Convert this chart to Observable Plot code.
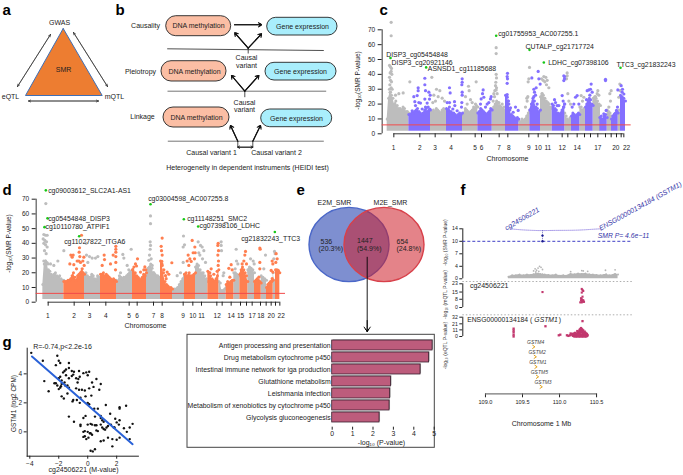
<!DOCTYPE html>
<html><head><meta charset="utf-8">
<style>html,body{margin:0;padding:0;background:#fff}#fig{position:relative;width:683px;height:475px;overflow:hidden;font-family:"Liberation Sans",sans-serif}#fig svg{position:absolute;overflow:visible;font-family:"Liberation Sans",sans-serif !important}#fig svg text{font-family:"Liberation Sans",sans-serif !important}</style>
<script src="https://cdn.jsdelivr.net/npm/d3@7"></script>
<script src="https://cdn.jsdelivr.net/npm/@observablehq/plot@0.6"></script>
</head><body><div id="fig"></div>
<script>
const FONT='"Liberation Sans",sans-serif';
const GREY="#bdbdbd",PURPLE="#8470ff",CORAL="#ff7f50",GREEN="#18c818",RED="#f24a4a",NAVY="#3535a8",CRIMSON="#c2386e";

// ---- panel c : Manhattan, genome position in arbitrary genome units
const chrStartC=[50,115,180,228,276,322,365,405,445,478,510,545,583,603,628,645,668,688,710,723,743,750];
const chrEndC=[115,180,228,276,322,365,405,445,478,510,545,583,603,628,645,668,690,710,723,743,750,765];
const chrTopC=[[10,24,28,26,24,20,22,19,17,17,16,18,17,15,15,14],[13,13,14,14,15,16,17,15,14,13,14,16,17,15,16,16],[15,14,16,15,17,16,15,14,16,17,16,15],[17,16,18,15,14,14,13,12,13,14,13,14],[13,14,17,16,15,14,15,16,18,17,19,18],[14,15,17,16,15,14,13,14,15,17,16],[16,18,20,22,21,19,18,17,18,16],[26,25,22,16,13,12,11,10,11,10],[9,8,10,9,10,12,14,16],[16,20,24,22,18,17,15,16],[25,27,26,24,22,21,20,18,17],[20,19,17,16,14,13,14,16,18,20],[14,12,10,9,11,10],[12,14,13,12,13,14,13],[18,18,16,17,16],[18,20,22,24,23,20,19],[24,25,24,22,20,19],[11,12,10,12,13,11],[16,15,14,12],[10,12,13,14,15,14],[14,16,14],[26,25,24,22]];
const tickC=[70,148,194,242,314,333,386,412,475,503,532,575,592,620,642,660,682,705,722,738,752,760];
const tickLabelC=["1","2","3","4","5","6","7","8","9","10","11","12","14","17","20","22"];
const tickLabelXC=[69,148,194,242,314,333,386,415,475,503,532,575,620,682,736,768];
const greyC=[[62,75],[62,66],[57,46],[60,45],[63,44],[62,42],[59,41],[64,40],[57,38],[60,36],[63,35],[58,33],[62,31],[65,30],[57,30],[60,28],[118,35],[98,27.5],[85,27],[75,26],[184,38],[198,30],[208,29],[190,26],[203,25],[215,24],[222,22],[195,22],[187,21],[317,35],[294,32],[296,29],[285,25],[300,23],[305,21],[315,20],[290,20],[377,58],[377,54],[377,40],[378,37.6],[376,34.7],[375,32.4],[378,31],[373,29],[377,29.5],[370,27],[380,27],[372,25],[368,22],[385,21],[395,20],[477,44.7],[475,37],[473,35],[472,25],[470,22],[469,24],[465,18],[513,37],[520,38.5],[526,38],[530,36],[518,36],[523,35],[528,33],[535,31],[515,27],[590,41],[590,39],[588,37],[592,27],[595,22],[600,20],[632,25.7],[640,24.6],[636,22],[682,29],[685,26],[675,25],[670,22],[680,27],[722,29],[718,27],[720,22],[715,18],[748,33.5],[745,24.6],[749,29]];
const accentC=[[143,31],[143,29],[140,25.7],[130,25],[145,21],[135,19],[125,15.5],[133,21.6],[163,37.4],[163,33],[165,29],[175,28],[179,26],[163,23.4],[170,20.7],[177,23.4],[165,18],[155,16.7],[173,18],[178,16.7],[150,20.7],[237,31],[239,27.5],[230,21],[237,21],[252,21.6],[253,19],[275,37],[275,34.7],[274,33],[275,28],[275,26],[274,21],[273,18],[260,15.5],[247,16.7],[338,29.5],[336,27],[332,23.5],[340,24.6],[360,23.5],[362,25],[355,21],[345,18],[330,20],[350,20],[411,40.7],[410,38.5],[411,37],[410,34],[410,26.4],[410,24.6],[413,22],[415,20],[420,17.5],[435,18],[443,15.7],[428,14.5],[503,42],[484,37.6],[490,30],[497,31],[492,28],[490,25],[505,37],[509,33.5],[488,22],[495,26],[500,20],[580,39],[582,38.5],[582,37],[580,35.8],[552,23],[555,21],[560,19],[565,19],[575,25.7],[578,22],[582,20],[580,18],[615,24.6],[610,20],[625,20],[620,25.7],[605,18],[662,33.5],[655,29.5],[650,29],[658,26],[660,30],[665,28],[648,23],[705,36.7],[705,35.8],[707,15.7],[700,13.5],[742,29.5],[741,18],[738,15.7],[733,13.5],[752,32.4],[755,28],[758,22.4],[760,26.8],[756,30]];
const greenXC=[60,167,377,477,520,750],greenYC=[51,44.7,66,56.5,48,44.5];
const labelTextC=["cg01755953_AC007255.1","CUTALP_cg21717724","DISP3_cg05454848","DISP3_cg20921146","ASNSD1_cg11185688","LDHC_cg07398106","TTC3_cg21832243"];
const labelXC=[383,465,47,63,172,533,738],labelYC=[67.1,58.4,53,48,43.6,47.6,46.5];

// ---- panel d : Manhattan
const chrStartD=[127,190,252,300,348,396,438,480,516,552,585,622,655,677,700,718,742,762,782,798,818,825];
const chrEndD=[190,252,300,348,396,438,480,516,552,585,622,655,677,700,718,742,762,782,798,818,825,838];
const chrTopD=[[12,26,28,27,22,21,19,18,19,20,18,17,18,16,15,15],[14,14,14,15,15,16,18,20,17,15,18,19,20,21,20,19],[19,20,18,17,17,19,18,16,15,18,17,16],[19,19,20,18,19,18,17,16,15,16,15,14],[15,14,18,17,16,17,17,18,19,20,21,22],[22,24,20,18,17,16,15,17,19,18,20],[20,22,24,26,23,20,19,18,18,17,16],[28,26,20,14,12,11,10,10,9],[8,9,9,10,12,14,16,19],[19,20,18,20,18,18,19,20],[24,26,25,22,20,20,18,16,14],[21,20,18,16,15,14,16,18,22],[14,13,8,8,9,10],[12,14,13,14,15,15],[20,20,19,18,18],[19,22,24,22,20,18,14],[22,24,23,22,20],[14,15,16,15,14,13],[18,17,16,15],[10,12,13,14,14,15],[20,15,14],[22,22,21,20]];
const tickD=[143,221,267,316,386,410,459,485,548,577,603,649,665,692,720,738,755,780,797,812,825,838];
const tickLabelD=["1","2","3","4","5","6","7","8","9","10","11","12","14","15","17","18","20","22"];
const tickLabelXD=[142,221,267,316,386,410,459,485,548,577,603,650,692,720,755,781,812,842];
const greyD=[[136,67],[130,46],[135,45.5],[140,45.5],[128,43],[133,42],[138,41],[130,40],[135,39],[140,37.5],[132,35],[137,33],[130,28],[135,28],[142,26],[150,26],[172,28],[160,25],[190,35],[257,40],[267,31],[258,32],[275,30],[285,30],[262,27],[292,31],[392,36],[367,32.5],[370,30],[380,25],[385,22],[360,20],[450,58.6],[450,53.4],[449,41],[450,38.6],[449,36],[447,32],[445,28.5],[452,29.5],[443,23],[455,25],[460,20],[549,45],[548,37.5],[552,39],[548,27],[540,20],[530,18],[593,41],[600,38.6],[605,37.5],[610,35],[595,33.6],[598,32],[606,29.5],[615,27],[662,41],[662,38.6],[663,35],[670,20],[668,18],[707,36],[708,28],[712,26],[704,22.7],[750,29.5],[758,28],[761,26],[745,20.5],[795,32],[790,22.7],[822,34.5],[824,33],[820,29.5]];
const accentD=[[211,32],[218,32],[215,30.6],[208,26],[220,25.5],[230,28],[237,37],[236,34],[238,31],[235,28],[243,45.5],[240,27],[250,30.6],[247,28],[251,25],[228,22.7],[245,22.7],[311,32],[312,29],[305,25],[330,26],[346,38],[346,36],[346,34],[346,31],[338,32],[346,27],[345,22],[411,29.5],[405,26],[408,24.6],[433,24],[436,22],[420,20.5],[430,22],[485,43.6],[482,38],[483,35],[485,32],[484,27.7],[485,25],[490,22],[505,19],[500,20.5],[497,16],[495,18],[514,26.8],[575,42],[583,37.5],[578,33.6],[584,33.6],[563,32],[560,28],[565,25],[568,29.5],[582,29.5],[572,27.7],[653,40],[652,38.6],[654,35],[652,32],[654,28],[653,25],[628,20],[640,19],[650,21],[632,22.7],[692,25.5],[695,22],[685,23],[688,17],[735,34.5],[725,26],[730,28],[738,26],[733,32],[722,20],[778,36.8],[779,36],[778,27],[778,22.7],[775,17],[770,13.6],[815,28],[817,26],[812,21.6],[817,20.5],[815,16],[830,29.5],[826,27],[833,21.6],[827,33]];
const greenXD=[136,141,132,236,450,550,593,823],greenYD=[76,57,51,44.8,66.6,56.4,51.4,47.7];
const labelTextD=["cg09003612_SLC2A1-AS1","cg03004598_AC007255.8","cg05454848_DISP3","cg10110780_ATPIF1","cg11027822_ITGA6","cg11148251_SMC2","cg07398106_LDHC","cg21832243_TTC3"];
const labelXD=[143,443,143,135,191,560,597,722],labelYD=[75.7,70,56.6,51,41.4,56.6,51.6,43];

// ---- enrichment bars
const pathways=["Antigen processing and presentation","Drug metabolism cytochrome p450","Intestinal immune network for iga production","Glutathione metabolism","Leishmania infection","Metabolism of xenobiotics by cytochrome p450","Glycolysis gluconeogenesis"];
const pathwayValues=[4.92,4.75,4.33,2.88,2.84,2.81,2.32];

// ---- panel g scatter
const mValues=[-3.9,-3.1,-2.1,-2,-1.9,-2.2,-1.3,-1.5,-1.3,-1.7,-1.6,-1.1,-.95,-1,-.6,-.3,-.55,-.65,-.7,-.1,.1,0,-.8,-1.1,-1.3,-1.5,-1.9,-2,-1.8,-1.8,-1.6,-2.2,-2.3,-2.1,-1.55,-1.4,-1.3,-1.9,-2,-1.85,-3,-2.7,-1.4,-1.8,-1.65,-.8,-.6,-.4,-.2,.1,.4,.3,.6,.9,.8,.25,-.15,-.5,-.75,-1,-1.05,-.55,0,.1,.45,.7,1.25,2.2,2.2,2.65,1.55,.9,.5,-.15,-1.3,-.3,-.95,-.5,-.5,0,.2,.3,.5,.6,.9,1,1.1,.9,1,1.1,1.2,1.3,1.4,1.6,1.8,1.85,1.9,2,2.15,2.2,2.5,2.9,3.1,2.7,2.9,-.2,-.3,-.2,0,.15,.2,.6,.7,-.3,.3,.9,1.1,1.4,1.7,2,2.2,1.7,.2,.35,.5,-.1,.05];
const cpmValues=[5.45,4.9,5.25,4.9,4.75,4.6,4.75,4.3,4.4,4.1,4.2,4.2,4.15,3.95,4.2,4.05,3.8,3.65,3.4,4.1,4.15,3.9,3.7,3.85,3.7,3.9,3.8,3.7,3.55,3.3,3.4,3.35,3.35,3.2,3.2,3.2,3.05,3.05,2.95,3.15,3.5,2.8,2.65,2.45,2.3,3,2.9,2.9,2.85,3,3.1,3.4,3.65,3.3,2.9,2.5,2.45,2.35,2.2,2.2,2.1,2,2,1.9,1.6,1.6,1.85,1.7,1.6,1.8,1.25,1.1,1.05,1.1,1.05,.95,.7,.5,.4,.5,.55,.5,.45,.45,.95,.8,.7,.5,.3,.2,.15,.3,.4,.5,.3,.3,.9,.65,.5,.8,.25,.3,.55,0,-.5,.05,0,-.3,0,-.1,-.1,.1,.05,-.35,-.2,-.65,-.6,-.4,-.5,-.55,-.4,-1,-1.3,-1.35,-1.2,-.5,-.4];
const fitX=[-3.85,3.1],fitY=[5.2,-.85];

// ---- panel f
const smrMb=[109.31,109.36,109.41,109.46,109.51,109.56,109.61,109.65,109.68,109.71,109.74,109.77,109.8,109.85,109.9,109.95,110,110.05,110.1,110.15,110.2,110.25,110.3,110.35,110.4,110.45,110.5,110.55,110.6,110.63,110.67,110.72,110.75,110.79];
const smrTop=[.6,1,1,1.2,1,1.2,1.1,1.3,1.4,1.5,1.4,1.3,1.2,1.1,1,1.2,.9,1,.9,1.4,1.3,1.5,1.4,1.5,1.3,1.2,1.1,1,1.1,1.3,1,1.1,1.4,1.2];
const smrBumpMb=[109.65,109.67,109.69,109.71,109.73,109.75,109.77,109.68,109.72,110.15,110.3,110.32,110.38,110.62,110.75];
const smrBumpV=[2.2,2.8,2.4,3,3.5,3.2,2.6,1.9,2.1,2,2.3,2.2,2.1,2.4,2.5];
const arcMb=[109.33,109.5,109.65,109.77,109.95,110.2,110.4,110.55],arcV=[14,13.7,13.55,13.5,13.55,13.6,13.8,14];
const mqtlMb=[109.77,110.3,110.31,110.32,110.3,110.31,110.29,110.3,110.31,110.32,110.33,110.3,110.31,110.29,110.28,110.3,110.32];
const mqtlV=[15,18,17,16,14.5,10.5,9,8,7,6,5.5,5,6,7,5,6,7];
const eqtlMb=[109.38,109.38,109.38,109.38,109.38,109.81,109.99,110.01,110.31,110.1,110.12,110.14,110.16,110.18,110.19,110.2,110.21,110.22,110.23,110.24,110.25,110.26,110.27,110.28,110.29,110.3,110.31,110.32,110.33,110.34,110.35,110.36,110.37,110.38,110.2,110.22,110.24,110.26,110.28,110.3,110.32,110.34,110.36,110.25,110.27,110.29,110.31,110.33,110.27,110.29,110.31,110.15,110.17,110.19,110.21,110.23,110.25,110.27,110.29,110.31,110.33,110.35,110.37,110.26,110.28,110.3,110.32,110.34,110.36,110.24,110.28,110.3,110.32,110.29];
const eqtlV=[13,10,7,3,0,17,2,3,25.5,2,1,2,3,1,3,2,4,2,5,3,7,2,5,3,1,3,2,4,1,3,2,3,1,2,0,0,0,0,0,0,0,0,0,7,9,10,8,6,11,14,11,5,4,5,6,4,5,6,7,6,5,6,4,3,8,8,6,8,5,9,12,12,10,13];
const genes=["GSTM4","GSTM2","GSTM1","GSTM5","GSTM3"];
const geneMb=[109.65,109.67,109.68,109.7,109.75],geneRank=[0,1,2,3,4];

// ---- diagram texts (panels a, b, e, letters and axis titles), laid out on the page canvas
const letters=["a","b","c","d","e","f","g"],letterX=[2,115,379,2,296,460,2],letterY=[10,10,10,190,190,190,342];
const diagramText=["GWAS","eQTL","mQTL","SMR","Causality","Pleiotropy","Linkage","DNA methylation","DNA methylation","DNA methylation","Gene expression","Gene expression","Gene expression","Causal","variant","Causal","variant","Causal variant 1","Causal variant 2","Heterogeneity in dependent instruments (HEIDI test)","E2M_SMR","M2E_SMR","Chromosome","Chromosome","-log₁₀ (P-value)","cg24506221 (M-value)","R=-0.74,p<2.2e-16","Chromosome 1 Mb"];
const diagramX=[59,10,114,63,145,140,142,198,194,196,302,300,296,246,246,244,244,211,276,247,334,390,507,145,381,83,62,541];
const diagramY=[22,96,96,69,25,71,116,25.5,71,117,26,71,118,57.5,65,102.5,109.5,152.5,152.5,167,202,202,158,325,442,469,346,423];
const vennText=["536","(20.3%)","1447","(54.9%)","654","(24.8%)"];
const vennX=[320,318,356.5,356.5,396,396],vennY=[241.5,248.7,240.7,248,241,248.3];
const rotatedText=["-log₁₀(SMR P-value)","-log₁₀(SMR P-value)","GSTM1 (log2 CPM)"],rotatedX=[357,8,13],rotatedY=[80,243,403];
const rotatedSmall=["-log₁₀ (SMR P-value)","-log₁₀ (mQTL P-value)","-log₁₀ (eQTL P-value)"],rotatedSmallY=[242,294,345];
const boxX1=[165.7,161,163],boxX2=[230.7,226,229],boxY1=[15.7,60.7,107],boxY2=[35.7,81,127];
const geneBoxX1=[266.7,265,260.7],geneBoxX2=[337,336,331.7],geneBoxY1=[17.3,62.3,109],geneBoxY2=[35,80,126.7];
const triX=[62.7,25,101.7,62.7],triY=[28,95,95,28];
const thinArrows=[[17,86,50,34],[50,34,17,86],[73,32,107,86],[107,86,73,32],[28,100.5,98,100.5],[98,100.5,28,100.5]];
const boldArrows=[[234,24.3,261,24.3],[247.7,47.7,234.3,32.3],[247.7,47.7,261,33.3],[244.3,90.7,231,75],[244.3,90.7,258.3,75],[237.3,140.7,230,125],[252.3,140.7,260,125]];
const smallArrows=[[237.3,146.7,252.3,146.7],[252.3,146.7,237.3,146.7]];
const darkLines=[[166.7,48.3,323.3,50],[247.7,47.7,247.7,53],[244.3,90.7,244.3,96.7],[237.3,140.7,237.3,146.7],[252.3,140.7,252.3,146.7]];
const greyLines=[[167,90.7,325.7,90.7],[167.3,140.7,323.3,140.7]];

const fig=document.getElementById("fig");
const at=(el,l,t)=>{el.style.left=l+"px";el.style.top=t+"px";fig.append(el);return el;};
const base=(size)=>({background:"transparent",fontFamily:FONT,fontSize:size+"px",color:"#222"});
const segs=(a,o)=>Plot.link(a,{x1:d=>d[0],y1:d=>d[1],x2:d=>d[2],y2:d=>d[3],...o});
const arrows=(a,o)=>Plot.arrow(a,{x1:d=>d[0],y1:d=>d[1],x2:d=>d[2],y2:d=>d[3],...o});
const textAt=(texts,xs,ys,o)=>Plot.text(texts,{x:(d,i)=>xs[i],y:(d,i)=>ys[i],text:d=>d,...o});

// canvas
at(Plot.plot({width:683,height:475,margin:0,style:base(7),x:{domain:[0,683],axis:null},y:{domain:[475,0],axis:null},marks:[
  Plot.line(triX.map((x,i)=>({x,y:triY[i]})),{x:"x",y:"y",fill:"#ed7d31",stroke:"#3f6fb5",strokeWidth:1}),
  arrows(thinArrows,{stroke:"#222",strokeWidth:.6,headLength:6,headAngle:50}),
  Plot.rect(boxX1,{x1:d=>d,x2:(d,i)=>boxX2[i],y1:(d,i)=>boxY1[i],y2:(d,i)=>boxY2[i],rx:10,fill:"#fbbea4",stroke:"#222",strokeWidth:.9}),
  Plot.rect(geneBoxX1,{x1:d=>d,x2:(d,i)=>geneBoxX2[i],y1:(d,i)=>geneBoxY1[i],y2:(d,i)=>geneBoxY2[i],rx:9,fill:"#a9eefc",stroke:"#222",strokeWidth:.9}),
  segs(darkLines,{stroke:"#222",strokeWidth:.8}),
  segs(greyLines,{stroke:"#666",strokeWidth:.9}),
  arrows(boldArrows,{stroke:"#111",strokeWidth:1.1,headLength:5,headAngle:70}),
  arrows(boldArrows,{stroke:"#111",strokeWidth:1.1,headLength:3,headAngle:70}),
  arrows(smallArrows,{stroke:"#111",strokeWidth:.8,headLength:4,headAngle:70}),
  // venn
  Plot.rect([0],{x1:309,x2:389,y1:207.4,y2:281.6,rx:40,ry:37,fill:"rgb(65,90,185)",fillOpacity:.68,stroke:"#4a67c8",strokeWidth:1.4}),
  Plot.rect([0],{x1:344,x2:424,y1:207.4,y2:281.6,rx:40,ry:37,fill:"rgb(205,30,40)",fillOpacity:.55,stroke:"#d8404a",strokeWidth:1.4}),
  textAt(vennText,vennX,vennY,{textAnchor:"start",fontSize:7,fill:"#222"}),
  arrows([[366.7,256.7,366.7,331]],{stroke:"#000",strokeWidth:.9,headLength:9,headAngle:70}),
  arrows([[366.7,320,366.7,331]],{stroke:"#000",strokeWidth:.9,headLength:5,headAngle:70}),
  // enrichment frame
  Plot.rect([0],{x1:187,x2:434.3,y1:334.3,y2:447.3,stroke:"#444",strokeWidth:1,fill:"none"}),
  textAt(diagramText,diagramX,diagramY,{fontSize:7,fill:"#222"}),
  textAt(letters,letterX,letterY,{textAnchor:"start",fontSize:15,fontWeight:"bold",fill:"#000"}),
  Plot.text(rotatedText,{x:(d,i)=>rotatedX[i],y:(d,i)=>rotatedY[i],text:d=>d,rotate:-90,fontSize:6.5,fill:"#222"}),
  Plot.text(rotatedSmall,{x:()=>444.5,y:(d,i)=>rotatedSmallY[i],text:d=>d,rotate:-90,fontSize:5,fill:"#333"})
]}),0,0);

function manhattan(opts){
  const {starts,ends,tops,ticks,tickLabels,tickLabelX,grey,accent,greenX,greenY,labels,labelX,labelY,color,left,top,width,height,ml,mr,mt,mb,domain,axisFrom,axisTo,labelDy}=opts;
  const mass=tops.flatMap((t,i)=>t.map((v,j)=>({g:starts[i]+(ends[i]-starts[i])*j/(t.length-1),v,chr:i})));
  const massGrey=mass.filter(d=>d.chr%2==0),massAccent=mass.filter(d=>d.chr%2==1);
  return at(Plot.plot({width,height,marginLeft:ml,marginRight:mr,marginTop:mt,marginBottom:mb,style:base(6.5),
    x:{domain},y:{domain:[0,70]},marks:[
    Plot.axisX({ticks,tickFormat:()=>"",tickSize:4,label:null,stroke:"#222"}),
    Plot.text(tickLabels,{x:(d,i)=>tickLabelX[i],y:()=>0,text:d=>d,dy:labelDy,fontSize:6.5,fill:"#222"}),
    Plot.axisY({ticks:[0,10,20,30,40,50,60,70],tickSize:4,tickPadding:3,label:null,stroke:"#222",fill:"#222"}),
    Plot.ruleX([domain[0]],{y1:0,y2:70,stroke:"#222",strokeWidth:.9}),
    Plot.ruleY([0],{x1:axisFrom,x2:axisTo,stroke:"#222",strokeWidth:.9}),
    Plot.areaY(massGrey,{x:"g",y1:()=>1.8,y2:"v",z:"chr",fill:GREY}),
    Plot.dot(massGrey,{x:"g",y:"v",r:1.5,fill:GREY}),
    Plot.dot(grey,{x:d=>d[0],y:d=>d[1],r:1.6,fill:GREY}),
    Plot.areaY(massAccent,{x:"g",y1:()=>1.8,y2:"v",z:"chr",fill:color}),
    Plot.dot(massAccent,{x:"g",y:"v",r:1.5,fill:color}),
    Plot.dot(accent,{x:d=>d[0],y:d=>d[1],r:1.6,fill:color}),
    Plot.ruleY([6],{stroke:RED,strokeWidth:1}),
    Plot.dot(greenX,{x:d=>d,y:(d,i)=>greenY[i],r:1.3,fill:GREEN}),
    textAt(labels,labelX,labelY,{textAnchor:"start",fontSize:6.9,fill:"#222"})
  ]}),left,top);
}
manhattan({starts:chrStartC,ends:chrEndC,tops:chrTopC,ticks:tickC,tickLabels:tickLabelC,tickLabelX:tickLabelXC,grey:greyC,accent:accentC,greenX:greenXC,greenY:greenYC,labels:labelTextC,labelX:labelXC,labelY:labelYC,color:PURPLE,
  left:350,top:0,width:333,height:170,ml:31.67,mr:52.33,mt:29.3,mb:36.7,domain:[35,782],axisFrom:70,axisTo:760,labelDy:14.5});
manhattan({starts:chrStartD,ends:chrEndD,tops:chrTopD,ticks:tickD,tickLabels:tickLabelD,tickLabelX:tickLabelXD,grey:greyD,accent:accentD,greenX:greenXD,greenY:greenYD,labels:labelTextD,labelX:labelXD,labelY:labelYD,color:CORAL,
  left:0,top:180,width:320,height:155,ml:35.67,mr:35,mt:18.7,mb:33.3,domain:[107,855],axisFrom:143,axisTo:838,labelDy:13.5});

// enrichment bars
at(Plot.plot({width:260,height:120,marginLeft:151.7,marginRight:6.3,marginTop:8,marginBottom:23.3,insetBottom:2.2,style:base(6.9),
  x:{domain:[0,5]},y:{domain:pathways,paddingInner:.16,paddingOuter:.08},marks:[
  Plot.barX(pathways,{y:d=>d,x:(d,i)=>pathwayValues[i],fill:"#999",dx:1,dy:-.6}),
  Plot.barX(pathways,{y:d=>d,x:(d,i)=>pathwayValues[i],fill:"#bd5c7c",stroke:"#3b2030",strokeWidth:.8}),
  Plot.axisX({ticks:[0,1,2,3,4,5],tickFormat:"d",tickSize:3,tickPadding:1,label:null,stroke:"#222",fill:"#222"}),
  Plot.axisY({tickSize:0,tickPadding:1.5,label:null,fill:"#222"})
]}),180,330);

// scatter g
at(Plot.plot({width:180,height:135,marginLeft:26.7,marginRight:42.1,marginTop:7.7,marginBottom:19.3,style:base(6.5),
  x:{domain:[-4.18,3.5]},y:{domain:[-1.68,5.77]},marks:[
  Plot.axisX({ticks:[-4,-2,0,2],tickSize:3,tickPadding:2,label:null,stroke:"#222",fill:"#222",tickFormat:d=>d<0?"−"+(-d):d}),
  Plot.axisY({ticks:[0,2,4],tickSize:3,tickPadding:2,label:null,stroke:"#222",fill:"#222"}),
  Plot.frame({anchor:"left",stroke:"#222"}),Plot.frame({anchor:"bottom",stroke:"#222"}),
  Plot.dot(mValues,{x:d=>d,y:(d,i)=>cpmValues[i],r:1.2,fill:"#111"}),
  Plot.line(fitX,{x:d=>d,y:(d,i)=>fitY[i],stroke:"#2a62d8",strokeWidth:2})
]}),0,340);

// panel f tracks
const mbDomain=[108.694,110.985];
const chevron={draw(c){c.moveTo(-1.3,-1.8);c.lineTo(1.3,0);c.lineTo(-1.3,1.8);}};
at(Plot.plot({width:253,height:110,marginLeft:32.3,marginRight:51,marginTop:48.3,marginBottom:11.7,style:base(5.2),
  x:{domain:mbDomain,axis:null},y:{domain:[0,14]},marks:[
  Plot.axisY({ticks:[0,3.5,7,10.5,14],tickFormat:d=>({0:"0",3.5:"4",7:"7",10.5:"10",14:"14"})[d],tickSize:3,tickPadding:2,label:null,stroke:"#222",fill:"#222"}),
  Plot.ruleX([mbDomain[0]],{y1:0,y2:14,stroke:"#222"}),
  Plot.areaY(smrMb,{x:d=>d,y1:()=>0,y2:(d,i)=>smrTop[i],fill:"#b5b5b5"}),
  Plot.dot(smrMb,{x:d=>d,y:(d,i)=>smrTop[i],r:.9,fill:"#b5b5b5"}),
  Plot.dot(smrBumpMb,{x:d=>d,y:(d,i)=>smrBumpV[i],r:.9,fill:"#b5b5b5"}),
  Plot.ruleY([10.5],{stroke:"#2a2abf",strokeWidth:.9,strokeDasharray:"3,2"}),
  Plot.line(arcMb,{x:d=>d,y:(d,i)=>arcV[i],curve:"natural",stroke:"#8a78e0",strokeWidth:.8,strokeDasharray:"1,1"}),
  Plot.ruleX([109.77],{y1:10.5,y2:13.5,stroke:NAVY,strokeWidth:.7,strokeDasharray:"1,1"}),
  Plot.dot([10.5,12.1],{x:()=>109.77,y:d=>d,r:1.2,fill:"#1c1c90"}),
  Plot.text(["cg24506221"],{x:()=>109.495,y:()=>16.8,text:d=>d,rotate:-30,fontSize:7,fontStyle:"italic",fill:NAVY}),
  Plot.text(["ENSG00000134184 (GSTM1)"],{x:()=>110.54,y:()=>14,text:d=>d,rotate:-29,textAnchor:"start",fontSize:7,fontStyle:"italic",fill:NAVY}),
  Plot.text(["SMR P= 4.6e−11"],{x:()=>110.864,y:()=>11.9,text:d=>d,fontSize:6.8,fontStyle:"italic",fill:NAVY})
]}),430,180);
at(Plot.plot({width:253,height:30,marginLeft:32.3,marginRight:51,marginTop:2.3,marginBottom:4,style:base(5.2),
  x:{domain:mbDomain,axis:null},y:{domain:[0,23]},marks:[
  Plot.axisY({ticks:[0,8,15,23],tickSize:3,tickPadding:2,label:null,stroke:"#222",fill:"#222"}),
  Plot.ruleX([mbDomain[0]],{y1:0,y2:23,stroke:"#222"}),
  Plot.ruleY([23],{stroke:"#999",strokeDasharray:"1.5,2",dy:-2.3,strokeWidth:.8}),
  Plot.dot(mqtlMb,{x:d=>d,y:(d,i)=>mqtlV[i],symbol:"square",r:1.2,fill:CRIMSON}),
  Plot.text(["cg24506221"],{x:()=>108.79,y:()=>20.7,text:d=>d,textAnchor:"start",fontSize:7,fill:"#222"})
]}),430,281);
at(Plot.plot({width:253,height:26,marginLeft:32.3,marginRight:51,marginTop:2.7,marginBottom:4,style:base(5.2),
  x:{domain:mbDomain,axis:null},y:{domain:[0,32]},marks:[
  Plot.axisY({ticks:[0,11,21,32],tickSize:3,tickPadding:2,label:null,stroke:"#222",fill:"#222"}),
  Plot.ruleX([mbDomain[0]],{y1:0,y2:32,stroke:"#222"}),
  Plot.ruleY([32],{stroke:"#999",strokeDasharray:"1.5,2",dy:-2.4,strokeWidth:.8}),
  Plot.dot(eqtlMb,{x:d=>d,y:(d,i)=>eqtlV[i],symbol:"square",r:1.3,fill:CRIMSON}),
  Plot.text(["ENSG00000134184 ("],{x:()=>108.753,y:()=>27,text:d=>d,textAnchor:"start",fontSize:6.8,fill:"#222"}),
  Plot.text(["GSTM1"],{x:()=>109.66,y:()=>27,text:d=>d,textAnchor:"start",fontSize:6.8,fontStyle:"italic",fill:"#222"}),
  Plot.text([")"],{x:()=>109.99,y:()=>27,text:d=>d,textAnchor:"start",fontSize:6.8,fill:"#222"})
]}),430,314);
at(Plot.plot({width:253,height:90,marginLeft:32.3,marginRight:51,marginTop:0,marginBottom:34.7,style:base(5.6),
  x:{domain:mbDomain},y:{domain:[4.7,-.83],axis:null},marks:[
  Plot.axisX({ticks:[109,109.5,110,110.5],tickFormat:".1f",tickSize:4,tickPadding:2,label:null,stroke:"#222",fill:"#222"}),
  Plot.ruleY([4.7],{x1:109,x2:110.5,stroke:"#777",strokeWidth:1.2}),
  Plot.text(genes,{x:(d,i)=>geneMb[i],y:(d,i)=>geneRank[i],text:d=>d,dx:2,dy:-4,fontStyle:"italic",fontSize:5,fontWeight:d=>d=="GSTM1"?"bold":"normal",fill:"#444"}),
  Plot.dot(genes,{x:(d,i)=>geneMb[i],y:(d,i)=>geneRank[i],symbol:chevron,r:2,fill:"none",stroke:"#e0a21b",strokeWidth:1})
]}),430,338);
</script></body></html>
